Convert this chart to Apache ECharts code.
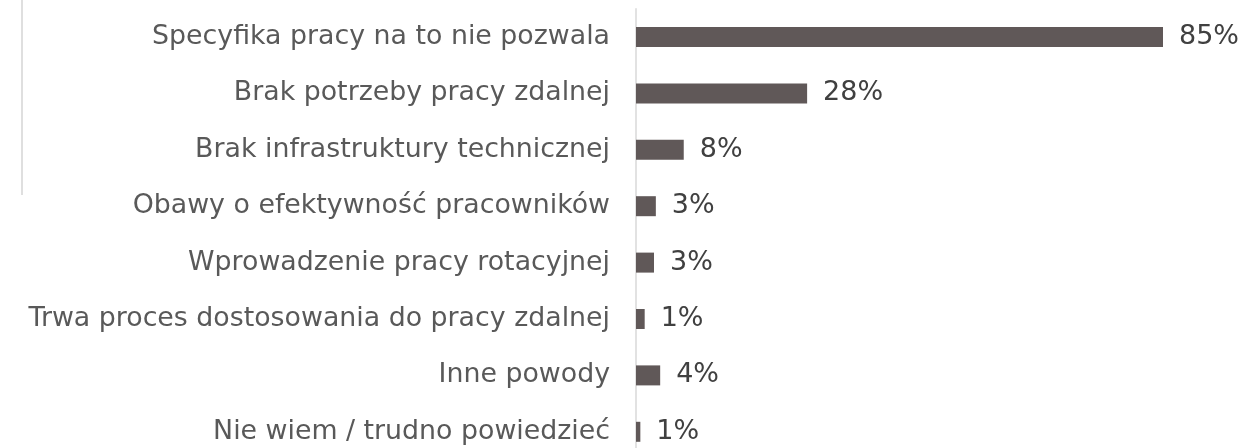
<!DOCTYPE html>
<html><head><meta charset="utf-8">
<script src="https://cdn.jsdelivr.net/npm/echarts@6/dist/echarts.min.js"></script>
<style>html,body{margin:0;padding:0;background:#fff}#c{width:1244px;height:448px}</style>
</head><body><div id="c"></div>
<script>
const categories = [
  "Specyfika pracy na to nie pozwala",
  "Brak potrzeby pracy zdalnej",
  "Brak infrastruktury technicznej",
  "Obawy o efektywność pracowników",
  "Wprowadzenie pracy rotacyjnej",
  "Trwa proces dostosowania do pracy zdalnej",
  "Inne powody",
  "Nie wiem / trudno powiedzieć"
];
const values = [85, 27.6, 7.7, 3.2, 2.9, 1.4, 3.9, 0.7];
const labels = ["85%", "28%", "8%", "3%", "3%", "1%", "4%", "1%"];

const chart = echarts.init(document.getElementById('c'), null, {renderer: 'canvas'});
const FONT = 'DejaVu Sans';
chart.setOption({
  animation: false,
  grid: {left: 636, width: 558, top: 8.8, height: 451.2, containLabel: false, outerBoundsMode: 'none'},
  xAxis: {type: 'value', min: 0, max: 90, show: false},
  yAxis: {
    type: 'category', data: categories, inverse: true,
    axisLine: {show: true, lineStyle: {color: '#d9d9d9', width: 1.5}},
    axisTick: {show: false},
    axisLabel: {color: '#595959', fontFamily: FONT, fontSize: 26.8, margin: 26}
  },
  series: [{
    type: 'bar', data: values, barWidth: 20,
    itemStyle: {color: '#605858'},
    label: {show: true, position: 'right', distance: 16, color: '#404040', fontFamily: FONT, fontSize: 27,
      formatter: p => labels[p.dataIndex]}
  }],
  graphic: [{type: 'line', shape: {x1: 22, y1: 0, x2: 22, y2: 195}, style: {stroke: '#bfbfbf', lineWidth: 1}}]
});
</script></body></html>
